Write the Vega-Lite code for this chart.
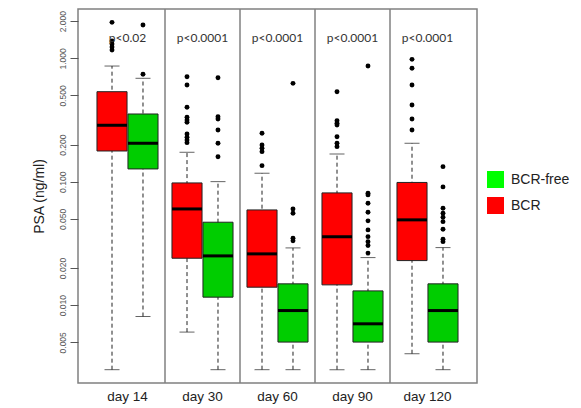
{
  "$schema": "https://vega.github.io/schema/vega-lite/v6.json",
  "width": 399,
  "height": 374,
  "autosize": {"type": "none"},
  "padding": {"left": 78, "top": 9, "right": 104, "bottom": 25},
  "config": {
    "view": {"stroke": "#808080", "strokeWidth": 1.5},
    "font": "Liberation Sans",
    "axisY": {"domain": false, "grid": false, "tickColor": "#555", "tickSize": 8, "labelAngle": -90, "labelAlign": "center", "labelBaseline": "bottom", "labelPadding": 3, "labelFontSize": 8.5, "labelColor": "#555", "titleFontSize": 14, "titleColor": "#222", "titleFontWeight": "normal", "titlePadding": 12}
  },
  "datasets": {
    "summary": [
      {"day": "day 14", "group": "BCR", "lower": 0.003, "q1": 0.1775, "median": 0.2868, "q3": 0.5365, "upper": 0.866},
      {"day": "day 14", "group": "BCR-free", "lower": 0.00809, "q1": 0.127, "median": 0.205, "q3": 0.354, "upper": 0.689},
      {"day": "day 30", "group": "BCR", "lower": 0.00605, "q1": 0.024, "median": 0.0602, "q3": 0.0978, "upper": 0.1733},
      {"day": "day 30", "group": "BCR-free", "lower": 0.003, "q1": 0.01161, "median": 0.02507, "q3": 0.047, "upper": 0.1002},
      {"day": "day 60", "group": "BCR", "lower": 0.003, "q1": 0.01398, "median": 0.02603, "q3": 0.0591, "upper": 0.1172},
      {"day": "day 60", "group": "BCR-free", "lower": 0.003, "q1": 0.00502, "median": 0.00904, "q3": 0.01488, "upper": 0.0291},
      {"day": "day 90", "group": "BCR", "lower": 0.003, "q1": 0.0146, "median": 0.0359, "q3": 0.0812, "upper": 0.168},
      {"day": "day 90", "group": "BCR-free", "lower": 0.003, "q1": 0.00502, "median": 0.00706, "q3": 0.01305, "upper": 0.02429},
      {"day": "day 120", "group": "BCR", "lower": 0.00404, "q1": 0.02297, "median": 0.0491, "q3": 0.0987, "upper": 0.205},
      {"day": "day 120", "group": "BCR-free", "lower": 0.003, "q1": 0.00502, "median": 0.00904, "q3": 0.01488, "upper": 0.02927}
    ],
    "outliers": [
      {"day": "day 14", "group": "BCR", "value": 1.957},
      {"day": "day 14", "group": "BCR", "value": 1.381},
      {"day": "day 14", "group": "BCR", "value": 1.306},
      {"day": "day 14", "group": "BCR", "value": 1.235},
      {"day": "day 14", "group": "BCR", "value": 1.167},
      {"day": "day 14", "group": "BCR-free", "value": 1.86},
      {"day": "day 14", "group": "BCR-free", "value": 0.742},
      {"day": "day 30", "group": "BCR", "value": 0.71},
      {"day": "day 30", "group": "BCR", "value": 0.608},
      {"day": "day 30", "group": "BCR", "value": 0.401},
      {"day": "day 30", "group": "BCR", "value": 0.333},
      {"day": "day 30", "group": "BCR", "value": 0.3166},
      {"day": "day 30", "group": "BCR", "value": 0.3032},
      {"day": "day 30", "group": "BCR", "value": 0.2438},
      {"day": "day 30", "group": "BCR", "value": 0.2293},
      {"day": "day 30", "group": "BCR", "value": 0.218},
      {"day": "day 30", "group": "BCR", "value": 0.2073},
      {"day": "day 30", "group": "BCR-free", "value": 0.6966},
      {"day": "day 30", "group": "BCR-free", "value": 0.3366},
      {"day": "day 30", "group": "BCR-free", "value": 0.3225},
      {"day": "day 30", "group": "BCR-free", "value": 0.2627},
      {"day": "day 30", "group": "BCR-free", "value": 0.205},
      {"day": "day 30", "group": "BCR-free", "value": 0.1596},
      {"day": "day 60", "group": "BCR", "value": 0.247},
      {"day": "day 60", "group": "BCR", "value": 0.1986},
      {"day": "day 60", "group": "BCR", "value": 0.1867},
      {"day": "day 60", "group": "BCR", "value": 0.1753},
      {"day": "day 60", "group": "BCR", "value": 0.135},
      {"day": "day 60", "group": "BCR-free", "value": 0.627},
      {"day": "day 60", "group": "BCR-free", "value": 0.0602},
      {"day": "day 60", "group": "BCR-free", "value": 0.0556},
      {"day": "day 60", "group": "BCR-free", "value": 0.0349},
      {"day": "day 60", "group": "BCR-free", "value": 0.0332},
      {"day": "day 90", "group": "BCR", "value": 0.5365},
      {"day": "day 90", "group": "BCR", "value": 0.3124},
      {"day": "day 90", "group": "BCR", "value": 0.2977},
      {"day": "day 90", "group": "BCR", "value": 0.2884},
      {"day": "day 90", "group": "BCR", "value": 0.2318},
      {"day": "day 90", "group": "BCR", "value": 0.205},
      {"day": "day 90", "group": "BCR", "value": 0.1924},
      {"day": "day 90", "group": "BCR-free", "value": 0.866},
      {"day": "day 90", "group": "BCR-free", "value": 0.0807},
      {"day": "day 90", "group": "BCR-free", "value": 0.0782},
      {"day": "day 90", "group": "BCR-free", "value": 0.067},
      {"day": "day 90", "group": "BCR-free", "value": 0.0566},
      {"day": "day 90", "group": "BCR-free", "value": 0.0482},
      {"day": "day 90", "group": "BCR-free", "value": 0.0407},
      {"day": "day 90", "group": "BCR-free", "value": 0.0359},
      {"day": "day 90", "group": "BCR-free", "value": 0.0327},
      {"day": "day 90", "group": "BCR-free", "value": 0.0304},
      {"day": "day 90", "group": "BCR-free", "value": 0.0264},
      {"day": "day 120", "group": "BCR", "value": 0.981},
      {"day": "day 120", "group": "BCR", "value": 0.83},
      {"day": "day 120", "group": "BCR", "value": 0.608},
      {"day": "day 120", "group": "BCR", "value": 0.4185},
      {"day": "day 120", "group": "BCR", "value": 0.3225},
      {"day": "day 120", "group": "BCR", "value": 0.2627},
      {"day": "day 120", "group": "BCR-free", "value": 0.1325},
      {"day": "day 120", "group": "BCR-free", "value": 0.0908},
      {"day": "day 120", "group": "BCR-free", "value": 0.061},
      {"day": "day 120", "group": "BCR-free", "value": 0.0556},
      {"day": "day 120", "group": "BCR-free", "value": 0.0516},
      {"day": "day 120", "group": "BCR-free", "value": 0.0475},
      {"day": "day 120", "group": "BCR-free", "value": 0.0412},
      {"day": "day 120", "group": "BCR-free", "value": 0.0342},
      {"day": "day 120", "group": "BCR-free", "value": 0.0327}
    ],
    "seps": [
      {"day": "day 30"}, {"day": "day 60"}, {"day": "day 90"}, {"day": "day 120"}
    ],
    "pvals": [
      {"day": "day 14", "label": "p<0.02"},
      {"day": "day 30", "label": "p<0.0001"},
      {"day": "day 60", "label": "p<0.0001"},
      {"day": "day 90", "label": "p<0.0001"},
      {"day": "day 120", "label": "p<0.0001"}
    ]
  },
  "encoding": {
    "x": {
      "field": "day",
      "type": "nominal",
      "scale": {"domain": ["day 14", "day 30", "day 60", "day 90", "day 120"], "paddingInner": 0, "paddingOuter": 0.16},
      "axis": {"title": null, "domain": false, "ticks": false, "labelAngle": 0, "labelFontSize": 13.5, "labelColor": "#222", "labelPadding": 6}
    }
  },
  "layer": [
    {
      "data": {"name": "seps"},
      "mark": {"type": "rule", "color": "#808080", "strokeWidth": 1.5},
      "encoding": {
        "x": {"field": "day", "type": "nominal", "bandPosition": 0}
      }
    },
    {
      "data": {"name": "summary"},
      "mark": {"type": "rule", "color": "#222", "strokeWidth": 1, "strokeDash": [4, 3]},
      "encoding": {
        "xOffset": {"field": "group", "type": "nominal", "scale": {"domain": ["BCR", "BCR-free"], "paddingInner": 0.03, "paddingOuter": 0.225}},
        "y": {"field": "lower", "type": "quantitative", "scale": {"type": "log", "domain": [0.00234, 2.51], "nice": false, "zero": false},
          "axis": {"title": "PSA (ng/ml)", "values": [0.005, 0.01, 0.02, 0.05, 0.1, 0.2, 0.5, 1, 2], "format": ".3f"}},
        "y2": {"field": "upper"}
      }
    },
    {
      "data": {"name": "summary"},
      "mark": {"type": "tick", "color": "#222", "thickness": 1, "size": 15},
      "encoding": {
        "xOffset": {"field": "group", "type": "nominal", "scale": {"domain": ["BCR", "BCR-free"], "paddingInner": 0.03, "paddingOuter": 0.225}},
        "y": {"field": "lower", "type": "quantitative", "scale": {"type": "log", "domain": [0.00234, 2.51], "nice": false, "zero": false},
          "axis": {"title": "PSA (ng/ml)", "values": [0.005, 0.01, 0.02, 0.05, 0.1, 0.2, 0.5, 1, 2], "format": ".3f"}}
      }
    },
    {
      "data": {"name": "summary"},
      "mark": {"type": "tick", "color": "#222", "thickness": 1, "size": 15},
      "encoding": {
        "xOffset": {"field": "group", "type": "nominal", "scale": {"domain": ["BCR", "BCR-free"], "paddingInner": 0.03, "paddingOuter": 0.225}},
        "y": {"field": "upper", "type": "quantitative", "scale": {"type": "log", "domain": [0.00234, 2.51], "nice": false, "zero": false},
          "axis": {"title": "PSA (ng/ml)", "values": [0.005, 0.01, 0.02, 0.05, 0.1, 0.2, 0.5, 1, 2], "format": ".3f"}}
      }
    },
    {
      "data": {"name": "summary"},
      "mark": {"type": "bar", "stroke": "#222", "strokeWidth": 1, "opacity": 1},
      "encoding": {
        "xOffset": {"field": "group", "type": "nominal", "scale": {"domain": ["BCR", "BCR-free"], "paddingInner": 0.03, "paddingOuter": 0.225}},
        "y": {"field": "q1", "type": "quantitative", "scale": {"type": "log", "domain": [0.00234, 2.51], "nice": false, "zero": false},
          "axis": {"title": "PSA (ng/ml)", "values": [0.005, 0.01, 0.02, 0.05, 0.1, 0.2, 0.5, 1, 2], "format": ".3f"}},
        "y2": {"field": "q3"},
        "fill": {"field": "group", "type": "nominal", "scale": {"domain": ["BCR", "BCR-free"], "range": ["#FF0000", "#00CD00"]}, "legend": null}
      }
    },
    {
      "data": {"name": "summary"},
      "mark": {"type": "tick", "color": "#000", "thickness": 3, "size": 30, "opacity": 1},
      "encoding": {
        "xOffset": {"field": "group", "type": "nominal", "scale": {"domain": ["BCR", "BCR-free"], "paddingInner": 0.03, "paddingOuter": 0.225}},
        "y": {"field": "median", "type": "quantitative", "scale": {"type": "log", "domain": [0.00234, 2.51], "nice": false, "zero": false},
          "axis": {"title": "PSA (ng/ml)", "values": [0.005, 0.01, 0.02, 0.05, 0.1, 0.2, 0.5, 1, 2], "format": ".3f"}}
      }
    },
    {
      "data": {"name": "outliers"},
      "mark": {"type": "point", "filled": true, "color": "#000", "size": 24, "opacity": 1},
      "encoding": {
        "xOffset": {"field": "group", "type": "nominal", "scale": {"domain": ["BCR", "BCR-free"], "paddingInner": 0.03, "paddingOuter": 0.225}},
        "y": {"field": "value", "type": "quantitative", "scale": {"type": "log", "domain": [0.00234, 2.51], "nice": false, "zero": false},
          "axis": {"title": "PSA (ng/ml)", "values": [0.005, 0.01, 0.02, 0.05, 0.1, 0.2, 0.5, 1, 2], "format": ".3f"}}
      }
    },
    {
      "data": {"name": "pvals"},
      "mark": {"type": "text", "font": "Lato", "fontSize": 12, "color": "#333", "baseline": "middle"},
      "encoding": {
        "y": {"datum": 1.474, "type": "quantitative", "scale": {"type": "log", "domain": [0.00234, 2.51], "nice": false, "zero": false},
          "axis": {"title": "PSA (ng/ml)", "values": [0.005, 0.01, 0.02, 0.05, 0.1, 0.2, 0.5, 1, 2], "format": ".3f"}},
        "text": {"field": "label"}
      }
    },
    {
      "data": {"name": "summary"},
      "mark": {"type": "square", "opacity": 0},
      "encoding": {
        "xOffset": {"field": "group", "type": "nominal", "scale": {"domain": ["BCR", "BCR-free"], "paddingInner": 0.03, "paddingOuter": 0.225}},
        "y": {"field": "median", "type": "quantitative", "scale": {"type": "log", "domain": [0.00234, 2.51], "nice": false, "zero": false},
          "axis": {"title": "PSA (ng/ml)", "values": [0.005, 0.01, 0.02, 0.05, 0.1, 0.2, 0.5, 1, 2], "format": ".3f"}},
        "color": {"field": "group", "type": "nominal", "scale": {"domain": ["BCR-free", "BCR"], "range": ["#00FF00", "#FF0000"]},
          "legend": {"title": null, "orient": "none", "legendX": 409, "legendY": 162, "padding": 0, "symbolType": "square", "symbolSize": 289, "symbolOpacity": 1, "symbolStrokeWidth": 0, "labelFontSize": 14, "labelColor": "#222", "labelOffset": 7, "rowPadding": 9}}
      }
    }
  ]
}
